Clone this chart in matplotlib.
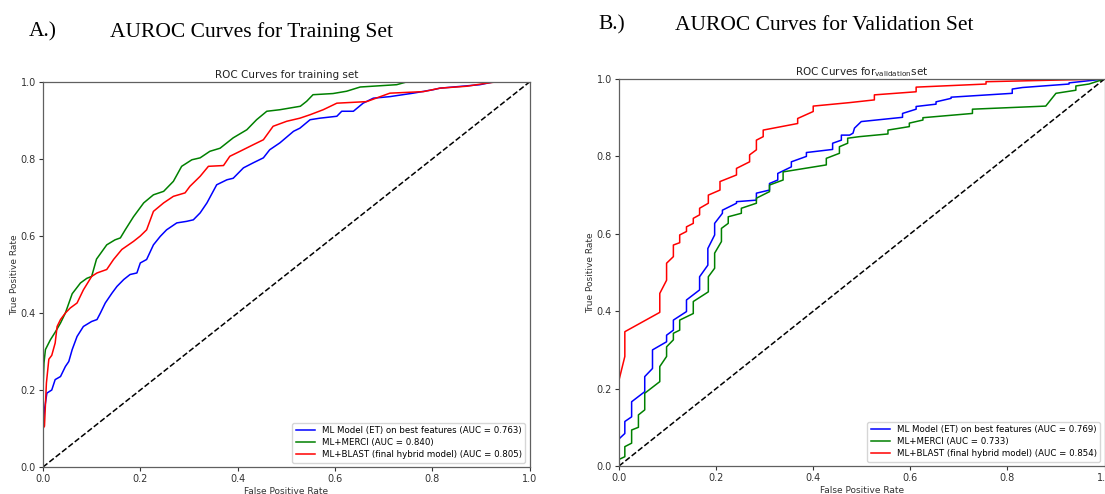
import matplotlib
matplotlib.use("Agg")
import matplotlib.pyplot as plt

# ---------------- data ----------------
train_et_fpr = [0, 0.0, .003, .008, .018, .025, .036, .046, .053, .06, .07, .083, .10, .111, .118, .128, .142, .152, .166,
                .179, .193, .20, .213, .227, .241, .254, .275, .295, .309, .323, .337, .357, .378, .391, .412, .432,
                .453, .466, .487, .515, .528, .549, .569, .604, .614, .638, .658, .679, .713, .761, .802, .816, .898,
                .925, 1.0]
train_et_tpr = [0, .10, .149, .192, .20, .227, .235, .261, .274, .305, .339, .365, .378, .383, .40, .426, .452, .469, .487,
                .50, .504, .53, .539, .577, .599, .616, .634, .638, .642, .66, .686, .733, .746, .75, .777, .79,
                .803, .824, .842, .872, .88, .902, .906, .911, .924, .924, .945, .958, .962, .971, .98, .984, .993,
                1.0, 1.0]

train_merci_fpr = [0, 0.0, .002, .005, .015, .025, .036, .046, .06, .077, .09, .10, .11, .131, .148, .159, .169, .186, .207,
                   .227, .248, .268, .285, .306, .323, .343, .364, .391, .419, .439, .46, .487, .529, .542, .555, .596,
                   .624, .652, .727, .747, 1.0]
train_merci_tpr = [0, .20, .27, .305, .33, .35, .374, .40, .45, .478, .49, .495, .54, .577, .59, .595, .616, .65, .686,
                   .707, .716, .742, .781, .798, .803, .82, .828, .855, .876, .902, .924, .928, .937, .95, .967, .97,
                   .976, .987, .993, 1.0, 1.0]

train_blast_fpr = [0, 0.0, .003, .007, .012, .018, .025, .029, .036, .046, .056, .07, .083, .10, .111, .131, .145, .162,
                   .186, .20, .213, .227, .248, .268, .292, .302, .323, .34, .371, .384, .405, .432, .453, .473, .501,
                   .528, .549, .576, .604, .665, .713, .782, .816, .871, .912, .93, 1.0]
train_blast_tpr = [0, .10, .106, .218, .28, .29, .322, .365, .383, .40, .413, .426, .46, .495, .504, .513, .539, .565,
                   .586, .6, .616, .664, .686, .703, .712, .729, .755, .781, .783, .807, .82, .837, .85, .885, .898,
                   .906, .915, .928, .945, .949, .971, .975, .984, .989, .997, 1.0, 1.0]

val_et_fpr = [0, 0, 0, .012, .012, .026, .026, .053, .053, .069, .069, .098, .098, .112, .112, .139, .139, .166, .166,
              .183, .183, .197, .197, .213, .213, .242, .242, .283, .283, .31, .31, .327, .327, .355, .355, .386,
              .386, .44, .44, .458, .458, .475, .482, .485, .499, .584, .584, .612, .612, .653, .653, .684, .684, .81,
              .81, .831, .927, .927, 1.0]
val_et_tpr = [0, .033, .07, .084, .115, .127, .166, .192, .231, .252, .30, .321, .338, .351, .377, .399, .429, .455, .489,
              .519, .562, .597, .627, .653, .661, .679, .683, .687, .705, .713, .73, .739, .756, .773, .786, .80,
              .81, .818, .834, .842, .855, .855, .860, .873, .89, .901, .911, .922, .929, .935, .941, .95, .953, .963,
              .974, .978, .987, .99, 1.0]

val_merci_fpr = [0, 0, .012, .012, .026, .026, .04, .04, .053, .053, .084, .084, .098, .098, .112, .112, .125, .125,
                 .153, .153, .184, .184, .197, .197, .211, .211, .225, .225, .252, .252, .283, .283, .31, .31, .338,
                 .338, .427, .427, .454, .454, .471, .471, .495, .554, .554, .598, .598, .626, .626, .728, .728, .879,
                 .886, .9, .941, .941, .968, 1.0]
val_merci_tpr = [0, .017, .024, .05, .059, .093, .10, .132, .145, .188, .218, .257, .283, .308, .326, .343, .351, .377,
                 .394, .425, .45, .489, .511, .55, .58, .614, .627, .644, .653, .666, .679, .692, .709, .726, .739,
                 .76, .778, .795, .808, .825, .834, .847, .851, .858, .868, .877, .886, .894, .90, .911, .922, .93,
                 .941, .963, .971, .982, .987, 1.0]

val_blast_fpr = [0, 0, 0, .012, .012, .084, .084, .098, .098, .112, .112, .125, .125, .139, .139, .153, .153, .166, .166,
                 .184, .184, .208, .208, .242, .242, .269, .269, .283, .283, .297, .297, .368, .368, .40, .40, .475,
                 .526, .526, .612, .612, .756, .756, 1.0]
val_blast_tpr = [0, .11, .222, .283, .347, .397, .446, .48, .524, .541, .571, .577, .597, .606, .618, .627, .64, .649,
                 .666, .679, .70, .713, .735, .752, .769, .786, .804, .817, .842, .851, .868, .885, .898, .916, .93,
                 .939, .946, .959, .967, .979, .987, .993, 1.0]

train_labels = ["ML Model (ET) on best features (AUC = 0.763)",
                "ML+MERCI (AUC = 0.840)",
                "ML+BLAST (final hybrid model) (AUC = 0.805)"]
val_labels = ["ML Model (ET) on best features (AUC = 0.769)",
              "ML+MERCI (AUC = 0.733)",
              "ML+BLAST (final hybrid model) (AUC = 0.854)"]
ticks = [0.0, 0.2, 0.4, 0.6, 0.8, 1.0]
tick_labels = ["0.0", "0.2", "0.4", "0.6", "0.8", "1.0"]

# ---------------- figure ----------------
fig = plt.figure(figsize=(11.05, 4.94), dpi=100)
W, H = 1105, 494

def make_ax(x0, x1, ytop, ybot):
    return fig.add_axes([x0 / W, (H - ybot) / H, (x1 - x0) / W, (ybot - ytop) / H])

axA = make_ax(43, 529.5, 82, 467)
axB = make_ax(619, 1104.5, 79, 466)

colors = ["blue", "green", "red"]
spine_col = "#606060"

def style(ax, title):
    ax.plot([0, 1], [0, 1], "k--", lw=1.1)
    ax.set_xlim(0, 1)
    ax.set_ylim(0, 1)
    ax.set_xticks(ticks)
    ax.set_xticklabels(tick_labels)
    ax.set_yticks(ticks)
    ax.set_yticklabels(tick_labels)
    ax.tick_params(labelsize=7, colors="#333333", length=3, width=0.8, pad=2)
    for s in ax.spines.values():
        s.set_color(spine_col)
        s.set_linewidth(0.9)
    ax.set_xlabel("False Positive Rate", fontsize=6.5, color="#333333", labelpad=2)
    ax.set_ylabel("True Positive Rate", fontsize=6.5, color="#333333", labelpad=1)
    ax.set_title(title, fontsize=7.5, color="#222222", pad=3)

for fpr, tpr, c, lab in zip([train_et_fpr, train_merci_fpr, train_blast_fpr],
                            [train_et_tpr, train_merci_tpr, train_blast_tpr], colors, train_labels):
    axA.plot(fpr, tpr, color=c, lw=1.1, label=lab)
style(axA, "ROC Curves for training set")
axA.legend(loc="lower right", fontsize=6.2, frameon=True, handlelength=2.2,
           borderpad=0.4, labelspacing=0.35, edgecolor="#cccccc", fancybox=True)

for fpr, tpr, c, lab in zip([val_et_fpr, val_merci_fpr, val_blast_fpr],
                            [val_et_tpr, val_merci_tpr, val_blast_tpr], colors, val_labels):
    axB.plot(fpr, tpr, color=c, lw=1.1, label=lab)
style(axB, r"ROC Curves for$_{\mathrm{validation}}$set")
axB.legend(loc="lower right", fontsize=6.2, frameon=True, handlelength=2.2,
           borderpad=0.4, labelspacing=0.35, edgecolor="#cccccc", fancybox=True)

# Panel headings
serif = ["Liberation Serif", "DejaVu Serif"]
fig.text(29 / W, 1 - 32 / H, "A.)", fontsize=15.5, family=serif, va="center", ha="left")
fig.text(110 / W, 1 - 32 / H, "AUROC Curves for Training Set", fontsize=15.5, family=serif, va="center", ha="left")
fig.text(598 / W, 1 - 25 / H, "B.)", fontsize=15.5, family=serif, va="center", ha="left")
fig.text(675 / W, 1 - 25 / H, "AUROC Curves for Validation Set", fontsize=15.5, family=serif, va="center", ha="left")

fig.savefig("out.png", dpi=100)
